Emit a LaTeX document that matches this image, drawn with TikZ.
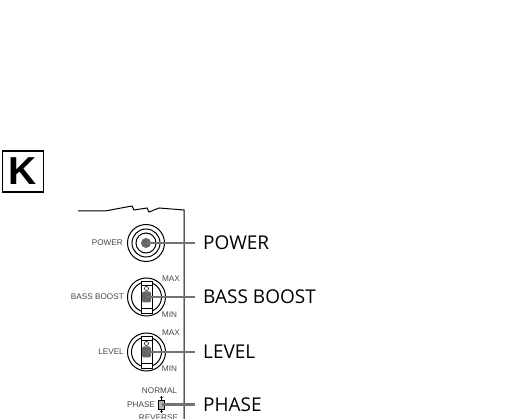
\documentclass[tikz,border=0pt]{standalone}
\usepackage{fontspec}
\setmainfont{Open Sans}
\newfontfamily\panelfont{Liberation Sans}
\usetikzlibrary{positioning, arrows.meta, calc}

\begin{document}
\begin{tikzpicture}[
  x=1pt, y=-1pt,
  bigtag/.style={
    inner sep=0pt,
    anchor=west,
    font=\fontsize{19}{19}\selectfont
  },
  paneltag/.style={
    inner sep=0pt,
    text=black!72,
    font=\fontsize{8.2}{8.2}\selectfont\panelfont
  },
  ring/.style={draw, circle, line width=1pt, inner sep=0pt},
  leader/.style={draw=black!55, line width=2.5pt},
  slot/.style={draw, line width=0.9pt, fill=white, minimum width=11pt, minimum height=32pt, inner sep=0pt}
]
  \useasboundingbox (0,0) rectangle (506,419);

  % Key letter
  \node (key) [draw, line width=1.5pt, minimum width=41pt, minimum height=41pt, inner sep=0pt,
    font=\fontsize{39}{39}\selectfont\panelfont\bfseries] at (23,171.5) {K};

  % Panel edge
  \coordinate (edgeA) at (78,211);
  \coordinate (edgeB) at (184,210);
  \coordinate (edgeC) at (184,419);
  \draw [line width=1pt] (edgeA) -- (105,211) -- (132,206) -- (134,210) -- (147,208) -- (149,212) -- (159,208) -- (edgeB) -- (edgeC);

  % Power button
  \node (powerknob) [ring, minimum size=37pt] at (146,243) {};
  \node [ring, minimum size=28pt] at (powerknob) {};
  \node [ring, minimum size=20pt] at (powerknob) {};
  \node (powerdot) [circle, fill=black!60, minimum size=10pt, inner sep=0pt] at (powerknob) {};
  \node (powertag) [paneltag, left=4pt of powerknob] {POWER};
  \node (powerlabel) [bigtag] at (203,243) {POWER};

  % Bass boost knob
  \node (bassknob) [ring, minimum size=38pt] at (146.5,297) {};
  \node [ring, minimum size=30pt] at (bassknob) {};
  \node (bassslot) [slot] at (bassknob) {};
  \draw [line width=0.7pt] (bassslot.north west) ++(0,5) -- ++(11,0);
  \draw [line width=0.7pt] (bassslot.south west) ++(0,-5) -- ++(11,0);
  \node [circle, draw, line width=0.5pt, minimum size=4pt, inner sep=0pt] at ($(bassknob)+(0,-8.5)$) {};
  \node (bassdot) [fill=black!60, rounded corners=2pt, minimum width=9pt, minimum height=11pt, inner sep=0pt] at (bassknob) {};
  \node (basstag) [paneltag, left=3pt of bassknob] {BASS BOOST};
  \node (bassmax) [paneltag] at (171,279) {MAX};
  \node (bassmin) [paneltag] at (169.5,315) {MIN};
  \node (basslabel) [bigtag] at (203,297) {BASS BOOST};

  % Level knob
  \node (levelknob) [ring, minimum size=38pt] at (146.5,352) {};
  \node [ring, minimum size=30pt] at (levelknob) {};
  \node (levelslot) [slot] at (levelknob) {};
  \draw [line width=0.7pt] (levelslot.north west) ++(0,5) -- ++(11,0);
  \draw [line width=0.7pt] (levelslot.south west) ++(0,-5) -- ++(11,0);
  \node [circle, draw, line width=0.5pt, minimum size=4pt, inner sep=0pt] at ($(levelknob)+(0,-8.5)$) {};
  \node (leveldot) [fill=black!60, rounded corners=2pt, minimum width=9pt, minimum height=11pt, inner sep=0pt] at (levelknob) {};
  \node (leveltag) [paneltag, left=3pt of levelknob] {LEVEL};
  \node (levelmax) [paneltag] at (171,333) {MAX};
  \node (levelmin) [paneltag] at (169.5,369) {MIN};
  \node (levellabel) [bigtag] at (203,352) {LEVEL};

  % Phase switch
  \node (phasebox) [draw, line width=0.7pt, fill=black!30, minimum width=6pt, minimum height=9pt, inner sep=0pt] at (161.5,404.5) {};
  \coordinate (phaseup) at (161.5,396);
  \coordinate (phasedown) at (161.5,413);
  \draw [{Stealth[length=2pt, width=3pt]}-, line width=0.5pt] (phaseup) -- (phasebox);
  \draw [{Stealth[length=2pt, width=3pt]}-, line width=0.5pt] (phasedown) -- (phasebox);
  \node (phasetag) [paneltag, left=3pt of phasebox] {PHASE};
  \node (phasenormal) [paneltag] at (159.5,391) {NORMAL};
  \node (phasereverse) [paneltag] at (158.5,418) {REVERSE};
  \node (phaselabel) [bigtag] at (203,404.5) {PHASE};

  % Leaders
  \path [leader] (powerknob.center) -- ([xshift=-8pt]powerlabel.west);
  \path [leader] (bassknob.center) -- ([xshift=-8pt]basslabel.west);
  \path [leader] (levelknob.center) -- ([xshift=-8pt]levellabel.west);
  \path [leader] (phasebox.center) -- ([xshift=-8pt]phaselabel.west);
\end{tikzpicture}
\end{document}
